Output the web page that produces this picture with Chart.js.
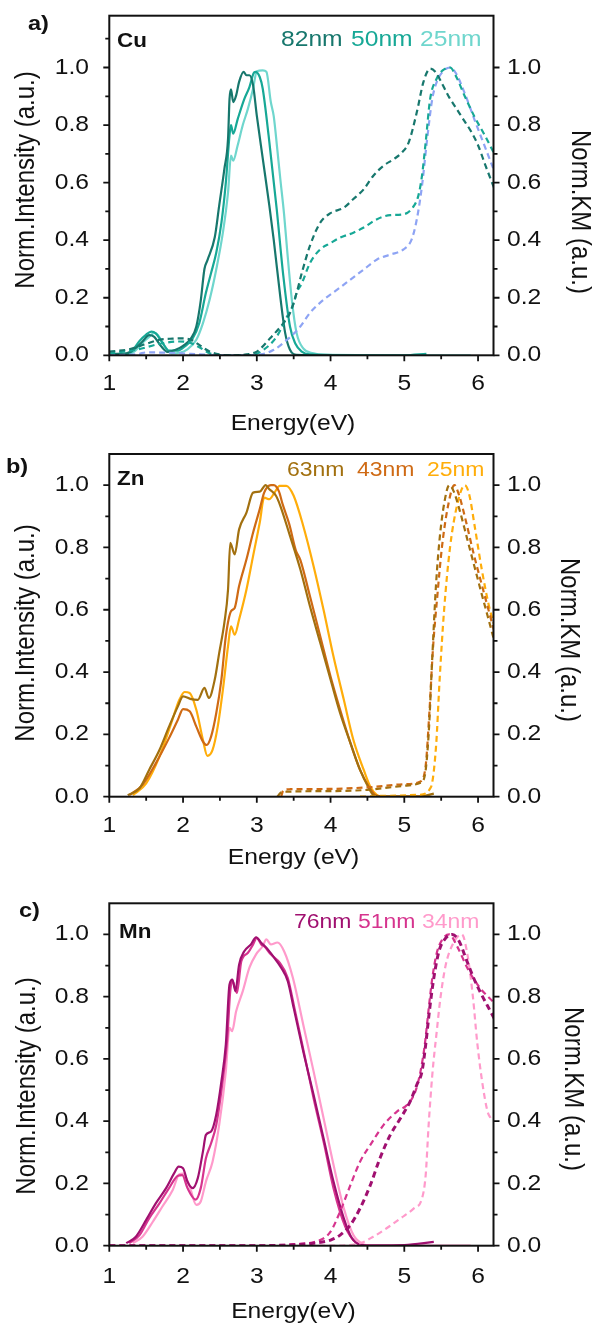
<!DOCTYPE html>
<html>
<head>
<meta charset="utf-8">
<script src="https://cdn.jsdelivr.net/npm/chart.js@4.4.1/dist/chart.umd.min.js"></script>
<style>
  body { margin: 0; background: #fff; width: 592px; height: 1325px; position: relative; overflow: hidden; }
  canvas { position: absolute; left: 0; }
</style>
</head>
<body>
<canvas id="cu" style="top:0"></canvas>
<canvas id="zn" style="top:430px"></canvas>
<canvas id="mn" style="top:870px"></canvas>
<script>
// ---- Cu: normalised intensity (solid) and KM (dashed), [energy eV, value]
const cuPL82 = [[1.0,.005],[1.23,.007],[1.36,.026],[1.45,.048],[1.54,.07],[1.61,.064],[1.70,.032],[1.79,.012],[1.90,.019],[2.0,.033],[2.11,.06],[2.18,.10],[2.24,.19],[2.29,.30],[2.33,.33],[2.43,.41],[2.49,.52],[2.56,.647],[2.61,.752],[2.63,.89],[2.65,.924],[2.68,.88],[2.72,.903],[2.76,.95],[2.82,.985],[2.86,.973],[2.90,.973],[2.95,.938],[3.0,.833],[3.08,.685],[3.17,.52],[3.23,.40],[3.32,.20],[3.385,.077],[3.45,.019],[3.54,.002],[4.0,0]];
const cuPL50 = [[1.2,0],[1.3,.012],[1.41,.05],[1.50,.072],[1.57,.082],[1.63,.076],[1.72,.044],[1.81,.016],[1.93,.016],[2.02,.03],[2.13,.059],[2.22,.112],[2.31,.217],[2.38,.286],[2.45,.356],[2.52,.46],[2.58,.60],[2.63,.764],[2.65,.80],[2.68,.77],[2.74,.82],[2.83,.89],[2.90,.932],[2.955,.979],[2.98,.985],[3.04,.967],[3.08,.927],[3.16,.764],[3.27,.508],[3.36,.275],[3.45,.10],[3.52,.042],[3.61,.013],[3.72,.003],[4.5,0],[5.0,0],[5.3,.005]];
const cuPL25 = [[1.25,0],[1.35,.015],[1.45,.044],[1.54,.064],[1.61,.078],[1.66,.07],[1.75,.032],[1.84,.007],[1.95,.009],[2.06,.021],[2.18,.054],[2.27,.112],[2.36,.193],[2.45,.298],[2.54,.426],[2.61,.566],[2.65,.694],[2.68,.676],[2.74,.729],[2.81,.80],[2.88,.857],[2.95,.927],[3.0,.987],[3.08,.99],[3.13,.985],[3.19,.88],[3.23,.83],[3.28,.71],[3.32,.61],[3.37,.49],[3.41,.37],[3.475,.193],[3.54,.077],[3.63,.024],[3.77,.007],[3.9,.002],[5.0,0],[5.9,0]];
const cuKM82 = [[1.0,.013],[1.27,.021],[1.5,.04],[1.68,.054],[1.86,.058],[2.0,.059],[2.11,.054],[2.22,.036],[2.36,.013],[2.49,.003],[2.7,0],[2.86,.003],[3.0,.013],[3.18,.059],[3.36,.112],[3.45,.147],[3.54,.217],[3.61,.286],[3.72,.38],[3.86,.461],[4.0,.494],[4.18,.513],[4.31,.543],[4.45,.577],[4.58,.624],[4.72,.659],[4.86,.682],[4.97,.705],[5.06,.74],[5.17,.845],[5.26,.95],[5.35,.996],[5.42,.985],[5.5,.95],[5.6,.90],[5.7,.86],[5.8,.82],[5.9,.78],[6.0,.73],[6.1,.66],[6.22,.58]];
const cuKM50 = [[1.0,.007],[1.36,.019],[1.72,.042],[1.95,.048],[2.09,.044],[2.22,.028],[2.36,.007],[2.5,0],[2.91,0],[3.09,.019],[3.27,.065],[3.41,.135],[3.50,.18],[3.54,.217],[3.61,.25],[3.72,.32],[3.86,.368],[4.0,.39],[4.13,.409],[4.31,.426],[4.45,.444],[4.63,.473],[4.81,.487],[4.99,.49],[5.13,.519],[5.19,.554],[5.24,.624],[5.29,.74],[5.35,.89],[5.44,.962],[5.52,.99],[5.62,1.0],[5.7,.97],[5.82,.9],[5.95,.83],[6.1,.76],[6.22,.70]];
const cuKM25 = [[1.0,0],[1.4,.005],[1.5,.01],[1.9,.008],[2.3,.002],[2.6,0],[3.05,.003],[3.23,.019],[3.41,.054],[3.59,.10],[3.72,.147],[3.905,.193],[4.09,.228],[4.27,.263],[4.45,.298],[4.63,.333],[4.81,.35],[4.99,.368],[5.10,.403],[5.17,.473],[5.24,.589],[5.31,.752],[5.38,.892],[5.44,.95],[5.52,.985],[5.62,1.0],[5.7,.98],[5.82,.91],[5.95,.82],[6.1,.72],[6.22,.64]];

// ---- Zn
const znPL63 = [[1.25,.005],[1.41,.027],[1.54,.086],[1.68,.15],[1.81,.225],[1.93,.29],[2.0,.322],[2.11,.313],[2.2,.311],[2.29,.349],[2.35,.317],[2.43,.376],[2.49,.461],[2.56,.558],[2.61,.665],[2.64,.815],[2.70,.778],[2.76,.858],[2.86,.912],[2.95,.976],[3.04,.979],[3.12,1.0],[3.17,.987],[3.26,.966],[3.32,.933],[3.45,.837],[3.59,.73],[3.72,.612],[3.86,.494],[4.0,.376],[4.13,.268],[4.27,.172],[4.40,.086],[4.52,.027],[4.58,.005],[4.67,0],[5.2,0],[5.4,.01]];
const znPL43 = [[1.27,.005],[1.45,.038],[1.63,.107],[1.81,.188],[1.93,.247],[2.0,.281],[2.09,.274],[2.18,.225],[2.27,.177],[2.32,.166],[2.38,.193],[2.45,.268],[2.52,.376],[2.58,.515],[2.65,.595],[2.70,.606],[2.76,.676],[2.86,.762],[2.95,.848],[3.04,.923],[3.10,.976],[3.19,1.0],[3.23,1.0],[3.30,.98],[3.35,.939],[3.44,.875],[3.53,.79],[3.59,.76],[3.72,.644],[3.86,.515],[4.0,.386],[4.13,.279],[4.27,.172],[4.40,.086],[4.52,.032],[4.61,.005],[4.72,0],[5.3,0]];
const znPL25 = [[1.32,.005],[1.50,.043],[1.68,.129],[1.84,.236],[1.95,.311],[2.02,.336],[2.09,.333],[2.18,.279],[2.27,.182],[2.33,.131],[2.40,.15],[2.47,.225],[2.54,.343],[2.61,.483],[2.65,.547],[2.70,.52],[2.76,.569],[2.86,.665],[2.95,.773],[3.04,.88],[3.10,.96],[3.17,.955],[3.24,.976],[3.31,.998],[3.40,.998],[3.50,.966],[3.63,.869],[3.77,.74],[3.905,.60],[4.04,.45],[4.18,.311],[4.31,.182],[4.45,.086],[4.54,.032],[4.63,.005],[4.72,0],[5.3,0]];
const znKM63 = [[3.28,0],[3.32,.012],[3.4,.016],[4.0,.018],[4.5,.022],[5.0,.035],[5.22,.045],[5.28,.07],[5.33,.2],[5.38,.45],[5.43,.68],[5.48,.83],[5.54,.94],[5.61,1.0],[5.67,.98],[5.75,.92],[5.85,.83],[5.95,.74],[6.05,.65],[6.13,.58],[6.22,.5]];
const znKM43 = [[3.33,0],[3.36,.02],[3.45,.024],[4.0,.025],[4.5,.03],[5.0,.04],[5.21,.048],[5.29,.1],[5.34,.27],[5.39,.48],[5.45,.65],[5.51,.8],[5.59,.93],[5.68,1.0],[5.74,.97],[5.84,.88],[5.94,.78],[6.04,.69],[6.13,.61],[6.22,.53]];
const znKM25 = [[4.4,0],[4.8,.003],[5.2,.006],[5.36,.03],[5.43,.16],[5.48,.38],[5.54,.6],[5.62,.8],[5.72,.94],[5.82,1.0],[5.88,.97],[5.96,.86],[6.05,.73],[6.15,.61],[6.22,.55]];

// ---- Mn
const mnPL76 = [[1.23,.008],[1.36,.029],[1.50,.083],[1.63,.136],[1.77,.185],[1.88,.233],[1.94,.254],[2.0,.249],[2.06,.206],[2.13,.185],[2.20,.217],[2.27,.303],[2.31,.356],[2.38,.367],[2.45,.421],[2.52,.528],[2.58,.646],[2.63,.839],[2.67,.855],[2.71,.818],[2.76,.903],[2.83,.946],[2.92,.968],[2.99,.991],[3.06,.973],[3.13,.957],[3.22,.93],[3.33,.893],[3.42,.85],[3.50,.764],[3.63,.624],[3.77,.485],[3.905,.345],[4.04,.206],[4.18,.088],[4.29,.024],[4.40,.004],[4.6,0],[5.0,.002],[5.4,.012]];
const mnPL51 = [[1.27,.008],[1.41,.034],[1.54,.088],[1.68,.136],[1.81,.185],[1.93,.225],[1.99,.227],[2.06,.185],[2.17,.148],[2.24,.185],[2.31,.281],[2.38,.329],[2.45,.388],[2.53,.517],[2.60,.667],[2.64,.818],[2.67,.85],[2.73,.812],[2.79,.914],[2.88,.941],[2.95,.968],[3.0,.989],[3.06,.968],[3.10,.962],[3.19,.936],[3.31,.909],[3.42,.86],[3.51,.764],[3.64,.62],[3.77,.474],[3.91,.33],[4.04,.185],[4.2,.061],[4.34,.011],[4.45,0],[5.0,0]];
const mnPL34 = [[1.32,.008],[1.45,.029],[1.59,.077],[1.72,.126],[1.86,.179],[1.95,.23],[2.0,.232],[2.09,.19],[2.18,.131],[2.24,.142],[2.31,.206],[2.40,.27],[2.49,.388],[2.58,.56],[2.63,.70],[2.665,.689],[2.72,.753],[2.81,.818],[2.90,.893],[2.99,.936],[3.08,.962],[3.13,.984],[3.19,.968],[3.28,.974],[3.37,.946],[3.49,.86],[3.63,.71],[3.77,.56],[3.905,.41],[4.04,.26],[4.18,.12],[4.31,.034],[4.45,.004],[4.54,0],[5.0,0],[5.9,0]];
const mnKM76 = [[1.0,0],[3.0,0],[3.5,.003],[3.77,.008],[4.0,.018],[4.13,.034],[4.27,.067],[4.40,.12],[4.54,.195],[4.67,.281],[4.81,.356],[4.95,.41],[5.08,.464],[5.17,.517],[5.24,.56],[5.29,.646],[5.34,.753],[5.40,.86],[5.47,.946],[5.55,.985],[5.65,1.0],[5.74,.98],[5.84,.92],[5.94,.86],[6.04,.81],[6.13,.77],[6.22,.73]];
const mnKM51 = [[1.0,0],[3.0,0],[3.5,.005],[3.86,.018],[4.0,.045],[4.13,.11],[4.27,.195],[4.40,.27],[4.54,.324],[4.72,.388],[4.9,.431],[5.04,.453],[5.15,.496],[5.22,.56],[5.28,.65],[5.33,.76],[5.38,.86],[5.44,.94],[5.52,.985],[5.61,1.0],[5.72,.96],[5.86,.89],[6.02,.83],[6.22,.78]];
const mnKM34 = [[1.0,0],[4.0,0],[4.40,.008],[4.58,.029],[4.76,.056],[4.95,.088],[5.13,.12],[5.24,.152],[5.29,.227],[5.33,.388],[5.38,.55],[5.44,.689],[5.49,.796],[5.56,.9],[5.66,.97],[5.78,1.0],[5.86,.93],[5.93,.8],[5.99,.65],[6.06,.52],[6.13,.43],[6.17,.41]];

const xTicks = [1, 2, 3, 4, 5, 6];
const yTicks = [0, 0.2, 0.4, 0.6, 0.8, 1.0];

const FONT = '"Liberation Sans", Arial, sans-serif';
const SX = 1.12;   // the figure's text runs slightly wide
const AREA_L = 109.3, AREA_R = 493.5;

const panels = [
  {
    id: 'cu', top: 0, height: 442, areaTop: 15.7, areaBottom: 355.3, ymax: 1.18, extraMinor: [1.1],
    letter: ['a)', 28, 30], element: ['Cu', 117, 46.5],
    legendBase: 46, legendSize: 22, legend: [['82nm', 281, '#17776d'], ['50nm', 351, '#17a896'], ['25nm', 420, '#6fd6cd']],
    xLabelBase: 390, xTitle: ['Energy(eV)', 293, 430],
    yTitle: [27, 180], y2Title: [579, 212],
    series: [
      { pl: cuPL82, km: cuKM82, color: '#17776d', kmColor: '#17776d' },
      { pl: cuPL50, km: cuKM50, color: '#17a896', kmColor: '#17a896' },
      { pl: cuPL25, km: cuKM25, color: '#6fd6cd', kmColor: '#8ea4f4' }
    ]
  },
  {
    id: 'zn', top: 430, height: 440, areaTop: 454, areaBottom: 796.7, ymax: 1.1, extraMinor: [],
    letter: ['b)', 6, 473], element: ['Zn', 117, 485],
    legendBase: 475.7, legendSize: 20.5, legend: [['63nm', 287, '#a2700f'], ['43nm', 357, '#cf6a14'], ['25nm', 427, '#ffad0a']],
    xLabelBase: 831.7, xTitle: ['Energy (eV)', 293.5, 864],
    yTitle: [27, 633], y2Title: [568, 640],
    series: [
      { pl: znPL63, km: znKM63, color: '#a2700f', kmColor: '#a2700f' },
      { pl: znPL43, km: znKM43, color: '#cf6a14', kmColor: '#cf6a14' },
      { pl: znPL25, km: znKM25, color: '#ffad0a', kmColor: '#ffad0a' }
    ]
  },
  {
    id: 'mn', top: 870, height: 455, areaTop: 903.3, areaBottom: 1245.7, ymax: 1.1, extraMinor: [],
    letter: ['c)', 19, 916.7], element: ['Mn', 119, 938.3],
    legendBase: 928.3, legendSize: 20.5, legend: [['76nm', 294, '#a01070'], ['51nm', 358, '#d6348e'], ['34nm', 422, '#ff9acb']],
    xLabelBase: 1282.7, xTitle: ['Energy(eV)', 293.5, 1318],
    yTitle: [28, 1086], y2Title: [572, 1089],
    series: [
      { pl: mnPL76, km: mnKM76, color: '#a01070', kmColor: '#a01070', kmWidth: 3 },
      { pl: mnPL51, km: mnKM51, color: '#d6348e', kmColor: '#d6348e' },
      { pl: mnPL34, km: mnKM34, color: '#ff9acb', kmColor: '#ff9acb' }
    ]
  }
];

// stretched text helper (coords already local to the canvas)
function txt(ctx, s, x, y, font, color, align, base, rot) {
  ctx.save();
  ctx.translate(x, y);
  ctx.scale(SX, 1);
  if (rot) ctx.rotate(rot);
  ctx.font = font;
  ctx.fillStyle = color || '#111';
  ctx.textAlign = align || 'left';
  ctx.textBaseline = base || 'alphabetic';
  ctx.fillText(s, 0, 0);
  ctx.restore();
}

function framePlugin(p) {
  return {
    id: 'frame_' + p.id,
    afterDatasetsDraw(chart) {
      const ctx = chart.ctx;
      const a = chart.chartArea;
      const xs = chart.scales.x, ys = chart.scales.y, ys2 = chart.scales.y2;
      const off = p.top;
      ctx.save();
      ctx.strokeStyle = '#111';
      ctx.lineWidth = 2;
      ctx.strokeRect(a.left, a.top, a.right - a.left, a.bottom - a.top);

      // x ticks, major every 1 eV and minor every 0.5 eV
      ctx.lineWidth = 1.8;
      ctx.beginPath();
      for (let i = 0; i <= 10; i++) {
        const v = 1 + i * 0.5;
        const px = xs.getPixelForValue(v);
        const len = i % 2 === 0 ? 6 : 4;
        ctx.moveTo(px, a.bottom);
        ctx.lineTo(px, a.bottom + len);
      }
      // y ticks on both sides, major 0.2 and minor 0.1
      const minors = [0.1, 0.3, 0.5, 0.7, 0.9].concat(p.extraMinor);
      yTicks.forEach(v => {
        const py = ys.getPixelForValue(v);
        ctx.moveTo(a.left, py); ctx.lineTo(a.left - 6, py);
        const py2 = ys2.getPixelForValue(v);
        ctx.moveTo(a.right, py2); ctx.lineTo(a.right + 6, py2);
      });
      minors.forEach(v => {
        const py = ys.getPixelForValue(v);
        ctx.moveTo(a.left, py); ctx.lineTo(a.left - 4, py);
        if (v < 1.05) {
          const py2 = ys2.getPixelForValue(v);
          ctx.moveTo(a.right, py2); ctx.lineTo(a.right + 4, py2);
        }
      });
      ctx.stroke();

      const tickFont = '22px ' + FONT;
      xTicks.forEach(v => txt(ctx, String(v), xs.getPixelForValue(v), p.xLabelBase - off, tickFont, '#111', 'center'));
      yTicks.forEach(v => {
        txt(ctx, v.toFixed(1), 89, ys.getPixelForValue(v), tickFont, '#111', 'right', 'middle');
        txt(ctx, v.toFixed(1), 507, ys2.getPixelForValue(v), tickFont, '#111', 'left', 'middle');
      });

      // axis titles
      txt(ctx, p.xTitle[0], p.xTitle[1], p.xTitle[2] - off, '22px ' + FONT, '#111', 'center');
      txt(ctx, 'Norm.Intensity (a.u.)', p.yTitle[0], p.yTitle[1] - off, '24px ' + FONT, '#111', 'center', 'middle', -Math.PI / 2);
      txt(ctx, 'Norm.KM (a.u.)', p.y2Title[0], p.y2Title[1] - off, '24px ' + FONT, '#111', 'center', 'middle', Math.PI / 2);

      // panel letter, element and thickness legend
      txt(ctx, p.letter[0], p.letter[1], p.letter[2] - off, 'bold 21px ' + FONT, '#111');
      txt(ctx, p.element[0], p.element[1], p.element[2] - off, 'bold 20px ' + FONT, '#111');
      p.legend.forEach(([s, x, c]) => txt(ctx, s, x, p.legendBase - off, p.legendSize + 'px ' + FONT, c));
      ctx.restore();
    }
  };
}

function makePanel(p) {
  const canvas = document.getElementById(p.id);
  canvas.width = 592;
  canvas.height = p.height;
  const toXY = arr => arr.map(([x, y]) => ({ x, y }));
  const datasets = [];
  p.series.forEach(s => datasets.push({
    data: toXY(s.km), yAxisID: 'y2', borderColor: s.kmColor, borderWidth: s.kmWidth || 2.2,
    borderDash: [6, 4], pointRadius: 0, fill: false, cubicInterpolationMode: 'monotone'
  }));
  p.series.forEach(s => datasets.push({
    data: toXY(s.pl), yAxisID: 'y', borderColor: s.color, borderWidth: 2.2,
    pointRadius: 0, fill: false, cubicInterpolationMode: 'monotone'
  }));

  const hidden = { ticks: { display: false }, grid: { display: false }, border: { display: false } };
  new Chart(canvas, {
    type: 'line',
    data: { datasets },
    options: {
      responsive: false,
      animation: false,
      events: [],
      layout: { padding: { top: p.areaTop - p.top, left: 0, right: 0, bottom: 0 } },
      plugins: { legend: { display: false }, tooltip: { enabled: false } },
      scales: {
        x: Object.assign({ type: 'linear', min: 1, max: 1 + (AREA_R - AREA_L) / 73.75,
          afterFit: s => { s.height = p.height - (p.areaBottom - p.top); } }, hidden),
        y: Object.assign({ position: 'left', min: 0, max: p.ymax,
          afterFit: s => { s.width = AREA_L; } }, hidden),
        y2: Object.assign({ position: 'right', min: 0, max: p.ymax,
          afterFit: s => { s.width = 592 - AREA_R; } }, hidden)
      }
    },
    plugins: [framePlugin(p)]
  });
}

panels.forEach(makePanel);
</script>
</body>
</html>
